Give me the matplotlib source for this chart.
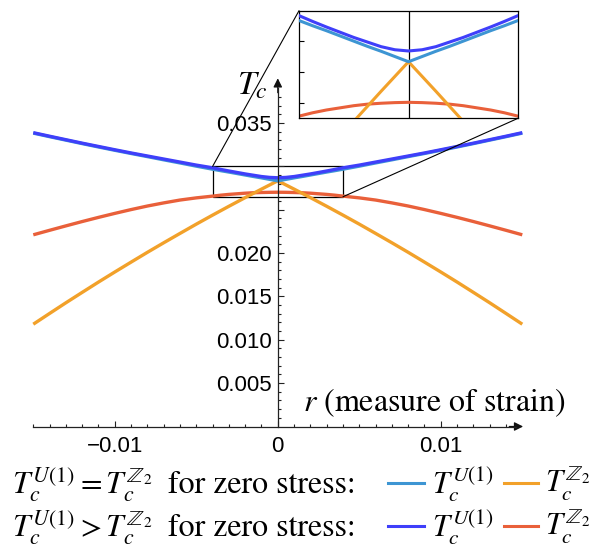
import numpy as np
import matplotlib
matplotlib.use('Agg')
import matplotlib.pyplot as plt
from matplotlib.patches import Rectangle, ConnectionPatch
from matplotlib.lines import Line2D

plt.rcParams['mathtext.fontset'] = 'stix'

# strain r >= 0 (all curves are even in r)
r_half = [0, 0.0005, 0.001, 0.0015, 0.002, 0.0025, 0.003, 0.0035, 0.004,
          0.005, 0.006, 0.007, 0.008, 0.009, 0.010, 0.011, 0.012, 0.013, 0.014, 0.015]

# Tc^U(1) = Tc^Z2 at zero stress
tc_u1_equal = [0.02834, 0.02851, 0.02868, 0.02884, 0.02901, 0.02918, 0.02935, 0.02951, 0.02968,
               0.03003, 0.03040, 0.03076, 0.03113, 0.03149, 0.03186, 0.03224, 0.03263, 0.03303, 0.03343, 0.03384]
tc_z2_equal = [0.02834, 0.02786, 0.02738, 0.02689, 0.02640, 0.02590, 0.02540, 0.02489, 0.02438,
               0.02334, 0.02227, 0.02119, 0.02009, 0.01896, 0.01782, 0.01666, 0.01547, 0.01427, 0.01304, 0.01180]

# Tc^U(1) > Tc^Z2 at zero stress
tc_u1_split = [0.02869, 0.02873, 0.02883, 0.02898, 0.02913, 0.02930, 0.02947, 0.02965, 0.02984,
               0.03015, 0.03050, 0.03085, 0.03120, 0.03155, 0.03192, 0.03230, 0.03268, 0.03308, 0.03348, 0.03389]
tc_z2_split = [0.02702, 0.02701, 0.02699, 0.02696, 0.02691, 0.02684, 0.02677, 0.02668, 0.02657,
               0.02637, 0.02612, 0.02579, 0.02543, 0.02502, 0.02458, 0.02412, 0.02364, 0.02314, 0.02263, 0.02211]

c_u1_equal = '#3D95D3'
c_z2_equal = '#F2A12A'
c_u1_split = '#3F3FFA'
c_z2_split = '#E9603A'


def mirror(vals):
    r = np.array(r_half)
    v = np.array(vals)
    return np.concatenate([-r[:0:-1], r]), np.concatenate([v[:0:-1], v])


W, H = 595, 546
def fx(px):
    return px / W
def fy(py):
    return 1 - py / H

fig = plt.figure(figsize=(W / 100, H / 100), dpi=100)

# main axes, origin at (0, 0)
ax = fig.add_axes([fx(30), fy(432), fx(525) - fx(30), fy(75) - fy(432)])
ax.set_xlim(-0.015202, 0.015166)
ax.set_ylim(-0.000634, 0.040542)

curves = [(tc_z2_split, c_z2_split, 2), (tc_z2_equal, c_z2_equal, 3),
          (tc_u1_equal, c_u1_equal, 4), (tc_u1_split, c_u1_split, 5)]
for vals, col, z in curves:
    rr, vv = mirror(vals)
    ax.plot(rr, vv, color=col, lw=2.4, zorder=z, solid_capstyle='butt')

for s in ['top', 'right']:
    ax.spines[s].set_visible(False)
ax.spines['left'].set_position(('data', 0))
ax.spines['bottom'].set_position(('data', 0))
ax.spines['left'].set_bounds(0, 0.0390)
ax.spines['bottom'].set_bounds(-0.015, 0.0146)
for s in ['left', 'bottom']:
    ax.spines[s].set_linewidth(0.9)
    ax.spines[s].set_color('#222222')
    ax.spines[s].set_zorder(6)

ax.set_xticks([-0.01, 0, 0.01])
ax.set_xticklabels(['\u22120.01', '0', '0.01'])
ax.set_xticks(np.arange(-15, 15) / 1000, minor=True)
ax.set_yticks([0.005, 0.010, 0.015, 0.020, 0.025, 0.030, 0.035])
ax.set_yticklabels(['0.005', '0.010', '0.015', '0.020', '', '', '0.035'])
ax.set_yticks(np.arange(1, 39) / 1000, minor=True)
ax.tick_params(which='both', direction='in', color='#222222', width=0.8,
               labelsize=16)
ax.tick_params(which='major', length=4.2)
ax.tick_params(which='minor', length=2.4)
ax.tick_params(axis='x', pad=7)
ax.tick_params(axis='y', pad=4)
for lab in ax.get_xticklabels() + ax.get_yticklabels():
    lab.set_fontfamily('Liberation Sans')
    lab.set_bbox(dict(facecolor='white', edgecolor='none', pad=0.5))
    lab.set_zorder(10)

ax.annotate('', xy=(0, 0.04016), xytext=(0, 0.0385),
            arrowprops=dict(arrowstyle='-|>', color='#111111', lw=0.9,
                            mutation_scale=13, shrinkA=0, shrinkB=0))
ax.annotate('', xy=(0.01505, 0), xytext=(0.0142, 0),
            arrowprops=dict(arrowstyle='-|>', color='#111111', lw=0.9,
                            mutation_scale=13, shrinkA=0, shrinkB=0))

fig.text(fx(267), fy(85), r'$T_c$', ha='right', va='center', fontsize=24)
fig.text(fx(303), fy(403), r'$r$ (measure of strain)', ha='left', va='center',
         fontsize=23, family='STIXGeneral')

# zoom box and its inset
x0, x1, y0, y1 = -0.004, 0.004, 0.0265, 0.030
ax.add_patch(Rectangle((x0, y0), x1 - x0, y1 - y0, fill=False, ec='black',
                       lw=0.9, zorder=1))

axin = fig.add_axes([fx(299), fy(118.3), fx(518) - fx(299), fy(10.7) - fy(118.3)])
for vals, col, z in curves:
    rr, vv = mirror(vals)
    axin.plot(rr, vv, color=col, lw=2.2, zorder=z)
axin.axvline(0, color='black', lw=0.9, zorder=1)
axin.set_xlim(x0, x1)
axin.set_ylim(y0, y1)
axin.set_xticks([])
axin.set_yticks([0.027, 0.028, 0.029])
axin.set_yticklabels([])
axin.tick_params(axis='y', direction='in', length=3.5, width=0.8)
for s in axin.spines.values():
    s.set_linewidth(0.9)

for xa, ya in [(x0, y1), (x1, y0)]:
    con = ConnectionPatch(xyA=(xa, ya), coordsA=ax.transData,
                          xyB=(xa, ya), coordsB=axin.transData,
                          color='black', lw=0.8, zorder=1)
    fig.add_artist(con)

# legend rows
rows = [
    (483, '=', c_u1_equal, c_z2_equal),
    (526, '>', c_u1_split, c_z2_split),
]
for yc, rel, cu, cz in rows:
    base = yc + 10
    fig.text(fx(12), fy(base), r'$T_c^{U(1)} %s T_c^{\mathbb{Z}_2}$' % rel,
             ha='left', va='baseline', fontsize=22.5)
    fig.text(fx(168), fy(base), 'for zero stress:', ha='left', va='baseline',
             fontsize=23, family='STIXGeneral')
    fig.add_artist(Line2D([fx(388), fx(424)], [fy(yc), fy(yc)], color=cu, lw=2.2))
    fig.text(fx(432), fy(base), r'$T_c^{U(1)}$', ha='left', va='baseline', fontsize=22)
    fig.add_artist(Line2D([fx(504), fx(538)], [fy(yc), fy(yc)], color=cz, lw=2.2))
    fig.text(fx(545), fy(base), r'$T_c^{\mathbb{Z}_2}$', ha='left', va='baseline', fontsize=22)

fig.savefig('out.png', dpi=100)
